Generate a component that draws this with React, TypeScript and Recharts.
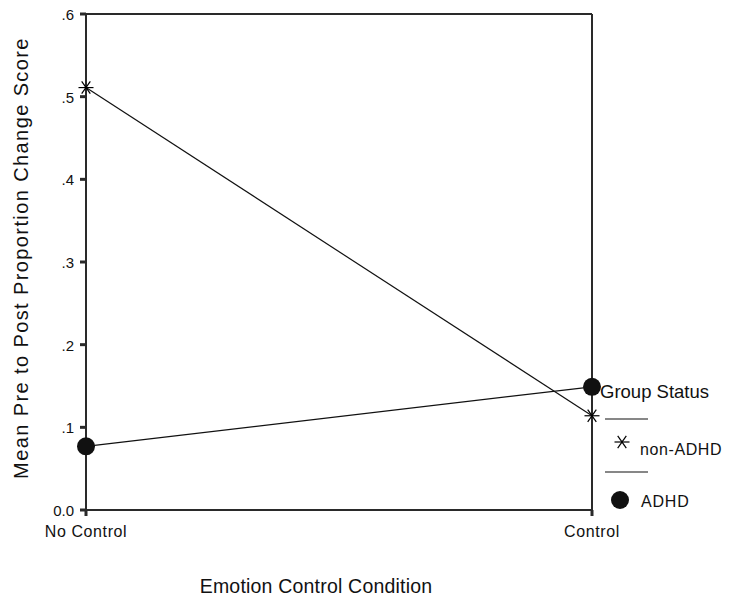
import React from "react";
import { LineChart, Line, XAxis, YAxis, Label, ReferenceLine } from "recharts";

const categories = ["No Control", "Control"];
const nonADHD = [0.511, 0.114];
const adhd = [0.077, 0.149];
const yTicks = [0, 0.1, 0.2, 0.3, 0.4, 0.5, 0.6];
const yTickLabels = ["0.0", ".1", ".2", ".3", ".4", ".5", ".6"];
const seriesNames = ["non-ADHD", "ADHD"];

const data = categories.map((c, i) => ({ cat: c, nonADHD: nonADHD[i], adhd: adhd[i] }));

const FONT = "'Liberation Sans', Arial, sans-serif";
const AX = "#2a2a2a";
const INK = "#111";

const Star = (props: any) => {
  const { cx, cy } = props;
  if (cx == null || cy == null) return null;
  const r = 7.5;
  const a = (55 * Math.PI) / 180;
  return (
    <g stroke="#000" strokeWidth={1.2}>
      <line x1={cx - r} y1={cy} x2={cx + r} y2={cy} />
      <line x1={cx - r * Math.cos(a)} y1={cy - r * Math.sin(a)} x2={cx + r * Math.cos(a)} y2={cy + r * Math.sin(a)} />
      <line x1={cx + r * Math.cos(a)} y1={cy - r * Math.sin(a)} x2={cx - r * Math.cos(a)} y2={cy + r * Math.sin(a)} />
    </g>
  );
};

const Dot = (props: any) => {
  const { cx, cy } = props;
  if (cx == null || cy == null) return null;
  return <circle cx={cx} cy={cy} r={9} fill={INK} />;
};

const YTick = (props: any) => {
  const { x, y, payload } = props;
  return (
    <text x={x - 4} y={y} dy={6} textAnchor="end" fontSize={15} fontFamily={FONT} fill={INK}>
      {yTickLabels[yTicks.indexOf(payload.value)] ?? ""}
    </text>
  );
};

const XTick = (props: any) => {
  const { x, y, payload } = props;
  return (
    <text x={x} y={y + 19} textAnchor="middle" fontSize={16} fontFamily={FONT} fill={INK} letterSpacing={0.6}>
      {payload.value}
    </text>
  );
};

const YTitle = () => {
  const cy = 258;
  const x = 28;
  return (
    <text
      x={x}
      y={cy}
      transform={`rotate(-90 ${x} ${cy})`}
      textAnchor="middle"
      fontSize={20}
      letterSpacing={1.4}
      fontFamily={FONT}
      fill={INK}
    >
      Mean Pre to Post Proportion Change Score
    </text>
  );
};

const XTitle = () => (
  <text x={316} y={593} textAnchor="middle" fontSize={19.5} letterSpacing={0.2} fontFamily={FONT} fill={INK}>
    Emotion Control Condition
  </text>
);

export default function App() {
  return (
    <div style={{ position: "relative", left: -8, top: -8, width: 738, height: 599 }}>
      <LineChart
        width={738}
        height={599}
        data={data}
        margin={{ top: 14, right: 146, bottom: 59, left: 0 }}
      >
        <XAxis
          dataKey="cat"
          type="category"
          height={30}
          padding={{ left: 0, right: 0 }}
          stroke={AX}
          strokeWidth={2}
          tickSize={6}
          tickLine={{ stroke: AX, strokeWidth: 3 }}
          tick={<XTick />}
          interval={0}
        >
          <Label content={<XTitle />} />
        </XAxis>
        <YAxis
          domain={[0, 0.6]}
          ticks={yTicks}
          width={86}
          stroke={AX}
          strokeWidth={2}
          tickSize={6}
          tickLine={{ stroke: AX, strokeWidth: 3 }}
          tick={<YTick />}
          interval={0}
        >
          <Label content={<YTitle />} />
        </YAxis>
        <ReferenceLine y={0.6} stroke={AX} strokeWidth={2} />
        <ReferenceLine x="Control" stroke={AX} strokeWidth={2} />
        <Line
          dataKey="nonADHD"
          name={seriesNames[0]}
          stroke={INK}
          strokeWidth={1.2}
          dot={<Star />}
          isAnimationActive={false}
        />
        <Line
          dataKey="adhd"
          name={seriesNames[1]}
          stroke={INK}
          strokeWidth={1.2}
          dot={<Dot />}
          isAnimationActive={false}
        />
      </LineChart>
      <svg width={140} height={170} style={{ position: "absolute", left: 598, top: 368, overflow: "visible" }}>
        <text x={2} y={30} fontSize={18.5} fontFamily={FONT} fill={INK}>Group Status</text>
        <line x1={7} y1={51} x2={50} y2={51} stroke={INK} strokeWidth={1.2} />
        <Star cx={24} cy={74} />
        <text x={42} y={87} fontSize={16} letterSpacing={0.6} fontFamily={FONT} fill={INK}>{seriesNames[0]}</text>
        <line x1={7} y1={104} x2={50} y2={104} stroke={INK} strokeWidth={1.2} />
        <circle cx={22} cy={132} r={9} fill={INK} />
        <text x={43} y={139} fontSize={16} letterSpacing={0.8} fontFamily={FONT} fill={INK}>{seriesNames[1]}</text>
      </svg>
    </div>
  );
}
